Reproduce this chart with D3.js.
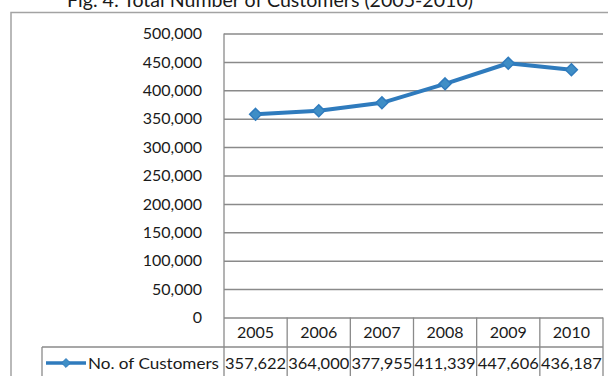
<!DOCTYPE html>
<html>
<head>
<meta charset="utf-8">
<script src="https://cdn.jsdelivr.net/npm/d3@7"></script>
<style>
  html, body { margin: 0; padding: 0; background: #fff; }
  svg { display: block; font-family: Lato, "Open Sans", sans-serif; }
</style>
</head>
<body>
<svg id="chart" width="608" height="376"></svg>
<script>
// Customers per year, 2005-2010
const years = ["2005", "2006", "2007", "2008", "2009", "2010"];
const customers = [357622, 364000, 377955, 411339, 447606, 436187];
const yTicks = [0, 50000, 100000, 150000, 200000, 250000, 300000, 350000, 400000, 450000, 500000];
const seriesName = "No. of Customers";
const titleText = "Fig. 4: Total Number of Customers (2005-2010)";

const svg = d3.select("#chart");
const lineColor = "#2f7bbd";
const markerFill = "#3f8ec6";
const gridColor = "#8a8a8a";
const borderColor = "#a3a3a3";
const textColor = "#1a1a1a";

const plot = { left: 224, right: 603, top: 33.5, bottom: 317.5 };
const headerBottom = 347;
const rowBottom = 376;
const legendLeft = 42;

const x = d3.scaleBand().domain(years).range([plot.left, plot.right]);
const y = d3.scaleLinear().domain([0, 500000]).range([plot.bottom, plot.top]);

// Title
svg.append("text")
  .attr("x", 270).attr("y", 7)
  .attr("text-anchor", "middle")
  .attr("font-size", 19)
  .attr("fill", textColor)
  .attr("textLength", 406)
  .attr("lengthAdjust", "spacingAndGlyphs")
  .text(titleText);

// Chart border (top and left edges)
svg.append("path")
  .attr("d", `M11,376 V12.5 H608`)
  .attr("fill", "none")
  .attr("stroke", borderColor)
  .attr("stroke-width", 1.5);

// Horizontal gridlines with value labels
const yAxis = d3.axisLeft(y)
  .tickValues(yTicks)
  .tickFormat(d3.format(","))
  .tickSize(-(plot.right - plot.left))
  .tickPadding(22);
const gy = svg.append("g")
  .attr("transform", `translate(${plot.left},0)`)
  .call(yAxis);
gy.select(".domain").remove();
gy.selectAll(".tick line")
  .attr("stroke", gridColor)
  .attr("stroke-width", 1.5);
gy.selectAll(".tick text")
  .attr("font-size", 16)
  .attr("font-family", "Lato, 'Open Sans', sans-serif")
  .attr("fill", textColor);

// Data table under the plot
const tbl = svg.append("g").attr("stroke", gridColor).attr("stroke-width", 1.3).attr("fill", "none");
// left axis line running through the table
tbl.append("line").attr("x1", plot.left).attr("x2", plot.left).attr("y1", plot.top).attr("y2", rowBottom);
// column separators
years.forEach(yr => {
  const xr = x(yr) + x.bandwidth();
  tbl.append("line").attr("x1", xr).attr("x2", xr).attr("y1", plot.bottom).attr("y2", rowBottom);
});
// row separator and legend cell
tbl.append("line").attr("x1", legendLeft).attr("x2", plot.right).attr("y1", headerBottom).attr("y2", headerBottom);
tbl.append("line").attr("x1", legendLeft).attr("x2", legendLeft).attr("y1", headerBottom).attr("y2", rowBottom);

// Year headers
svg.append("g").selectAll("text")
  .data(years).join("text")
  .attr("x", d => x(d) + x.bandwidth() / 2)
  .attr("y", (plot.bottom + headerBottom) / 2)
  .attr("dy", "0.35em")
  .attr("text-anchor", "middle")
  .attr("font-size", 16)
  .attr("fill", textColor)
  .text(d => d);

// Value row
const rowMid = 363;
svg.append("g").selectAll("text")
  .data(customers).join("text")
  .attr("x", (d, i) => x(years[i]) + x.bandwidth() / 2)
  .attr("y", rowMid)
  .attr("dy", "0.35em")
  .attr("text-anchor", "middle")
  .attr("font-size", 16)
  .attr("fill", textColor)
  .attr("textLength", 61)
  .attr("lengthAdjust", "spacingAndGlyphs")
  .text(d => d3.format(",")(d));

// Legend key in the table
svg.append("line")
  .attr("x1", 46).attr("x2", 86).attr("y1", rowMid).attr("y2", rowMid)
  .attr("stroke", lineColor).attr("stroke-width", 3.5);
svg.append("path")
  .attr("d", d3.symbol().type(d3.symbolDiamond2).size(50)())
  .attr("transform", `translate(66,${rowMid})`)
  .attr("fill", markerFill).attr("stroke", lineColor).attr("stroke-width", 1);
svg.append("text")
  .attr("x", 88).attr("y", rowMid).attr("dy", "0.35em")
  .attr("font-size", 16).attr("fill", textColor)
  .attr("textLength", 131).attr("lengthAdjust", "spacingAndGlyphs")
  .text(seriesName);

// Series line and markers
const line = d3.line()
  .x((d, i) => x(years[i]) + x.bandwidth() / 2)
  .y(d => y(d));
svg.append("path")
  .datum(customers)
  .attr("d", line)
  .attr("fill", "none")
  .attr("stroke", lineColor)
  .attr("stroke-width", 4)
  .attr("stroke-linejoin", "round");
svg.append("g").selectAll("path")
  .data(customers).join("path")
  .attr("d", d3.symbol().type(d3.symbolDiamond2).size(90)())
  .attr("transform", (d, i) => `translate(${x(years[i]) + x.bandwidth() / 2},${y(d)})`)
  .attr("fill", markerFill)
  .attr("stroke", lineColor)
  .attr("stroke-width", 1.5);
</script>
</body>
</html>
